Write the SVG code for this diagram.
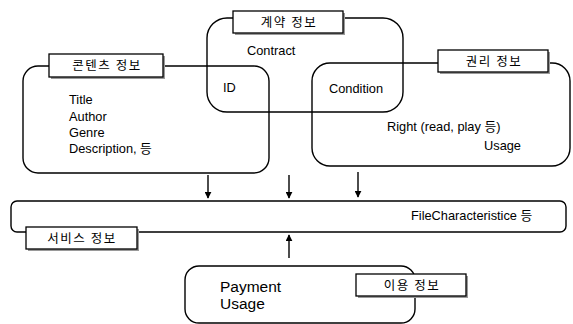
<svg xmlns="http://www.w3.org/2000/svg" width="573" height="324" viewBox="0 0 573 324">
<style>
.box{fill:none;stroke:#000;stroke-width:1.4}
.lbl{fill:#fff;stroke:#000;stroke-width:1.3}
.sh{fill:#9a9a9a}
.t{font-family:"Liberation Sans","Noto Sans CJK KR",sans-serif;font-size:12.8px;fill:#000}
.big{font-size:15.5px}
.k{font-family:"Noto Sans CJK KR","Liberation Sans",sans-serif;font-size:12.5px;letter-spacing:1.5px;text-anchor:middle;fill:#000}
.arr{stroke:#000;stroke-width:1.4;fill:none}
</style>
<defs>
<marker id="ah" viewBox="0 0 10 10" refX="9" refY="5" markerWidth="7" markerHeight="7" orient="auto" markerUnits="userSpaceOnUse">
<path d="M0,0 L10,5 L0,10 z" fill="#000"/>
</marker>
</defs>
<rect width="573" height="324" fill="#fff"/>

<g id="contents">
<rect class="box" x="23" y="66" width="246" height="107" rx="15"/>
<text class="t" x="69" y="104">Title</text>
<text class="t" x="69" y="121">Author</text>
<text class="t" x="69" y="137">Genre</text>
<text class="t" x="69" y="153">Description, 등</text>
</g>

<g id="contract">
<rect class="box" x="207" y="18" width="196" height="94" rx="20"/>
<text class="t" x="247" y="55">Contract</text>
<text class="t" x="223" y="92">ID</text>
</g>

<g id="rights">
<rect class="box" x="312" y="63" width="258" height="103" rx="18"/>
<text class="t" x="329" y="93">Condition</text>
<text class="t" x="387" y="131">Right (read, play 등)</text>
<text class="t" x="484" y="150">Usage</text>
</g>

<g id="service">
<rect class="box" x="11" y="201" width="555" height="31" rx="6"/>
<text class="t" x="411" y="220">FileCharacteristice 등</text>
</g>

<g id="usage">
<rect class="box" x="185" y="266" width="230" height="57" rx="14"/>
<text class="t big" x="220" y="292">Payment</text>
<text class="t big" x="220" y="309">Usage</text>
</g>

<g id="label-contents">
<rect class="sh" x="51" y="56" width="114" height="23"/>
<rect class="lbl" x="49" y="54" width="114" height="23"/>
<text class="k" x="107" y="70">콘텐츠 정보</text>
</g>
<g id="label-contract">
<rect class="sh" x="235" y="13" width="110" height="22"/>
<rect class="lbl" x="233" y="11" width="110" height="22"/>
<text class="k" x="289" y="27">계약 정보</text>
</g>
<g id="label-rights">
<rect class="sh" x="440" y="52" width="110" height="22"/>
<rect class="lbl" x="438" y="50" width="110" height="22"/>
<text class="k" x="494" y="66">권리 정보</text>
</g>
<g id="label-service">
<rect class="sh" x="28" y="229" width="111" height="22"/>
<rect class="lbl" x="26" y="227" width="111" height="22"/>
<text class="k" x="82" y="243">서비스 정보</text>
</g>
<g id="label-usage">
<rect class="sh" x="358" y="276" width="110" height="22"/>
<rect class="lbl" x="356" y="274" width="110" height="22"/>
<text class="k" x="412" y="290">이용 정보</text>
</g>

<g id="connectors">
<line class="arr" x1="208" y1="175" x2="208" y2="198" marker-end="url(#ah)"/>
<line class="arr" x1="289" y1="175" x2="289" y2="198" marker-end="url(#ah)"/>
<line class="arr" x1="358" y1="172" x2="358" y2="197" marker-end="url(#ah)"/>
<line class="arr" x1="289" y1="258" x2="289" y2="235" marker-end="url(#ah)"/>
</g>
</svg>
